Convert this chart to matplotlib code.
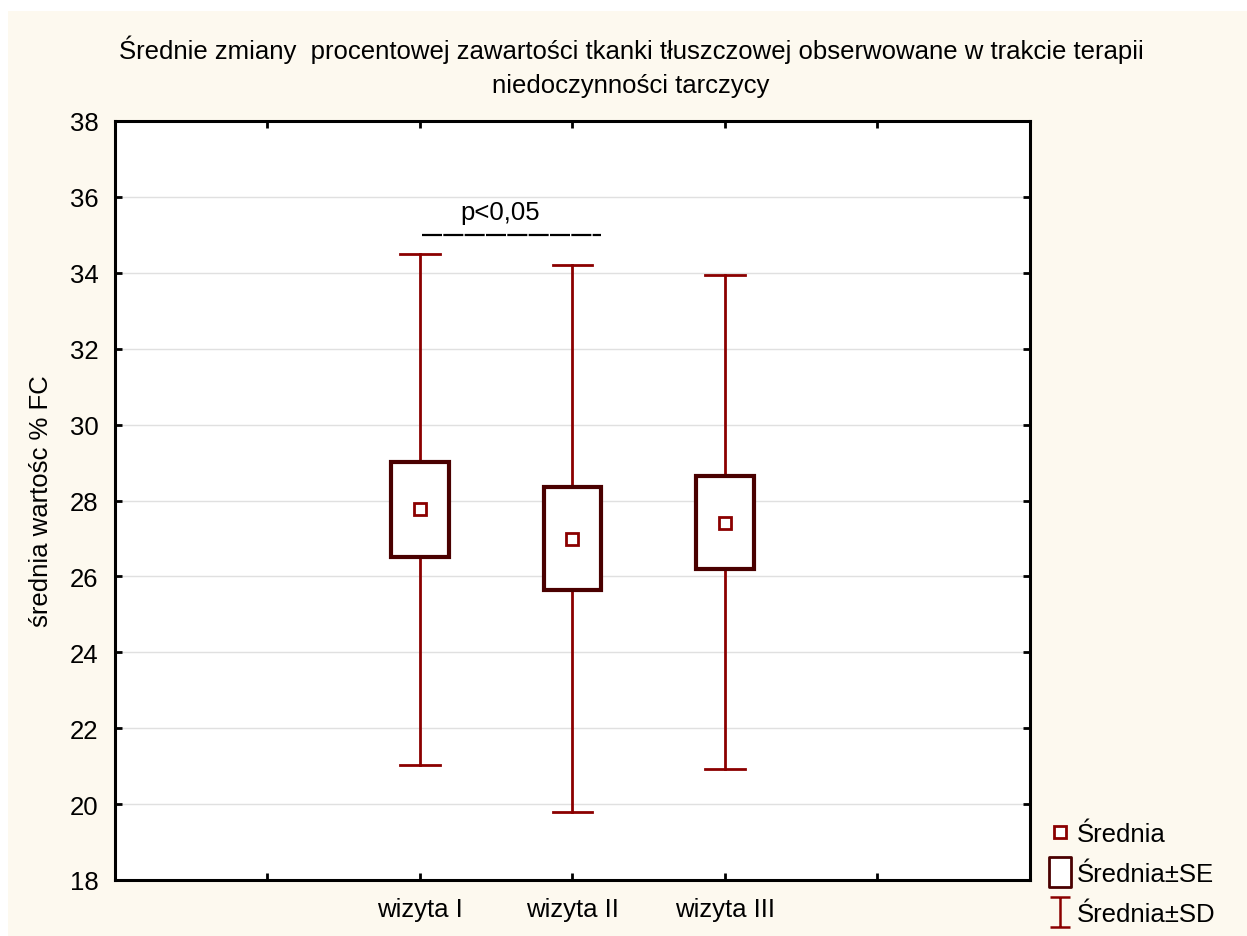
import matplotlib
matplotlib.use('Agg')
import matplotlib.pyplot as plt
from matplotlib.lines import Line2D
from matplotlib.patches import Rectangle
from matplotlib.path import Path

plt.rcParams['font.family'] = ['Liberation Sans', 'DejaVu Sans']

# dane
wizyty = ['wizyta I', 'wizyta II', 'wizyta III']
srednia = [27.78, 26.99, 27.41]
se_dol = [26.51, 25.64, 26.20]
se_gora = [29.01, 28.36, 28.65]
sd_dol = [21.03, 19.79, 20.93]
sd_gora = [34.50, 34.21, 33.94]
pozycje = [2, 3, 4]

box_col = '#4A0000'
sd_col = '#8B0000'
krem = '#FDF9EF'
fs = 18.5

fig = plt.figure(figsize=(12.47, 9.37), dpi=100, facecolor='white')
fig.patches.append(Rectangle((8 / 1247, 0), 1, 1 - 12 / 937, transform=fig.transFigure,
                             facecolor=krem, edgecolor='none', zorder=-10))

ax = fig.add_axes([115 / 1247, 1 - 881 / 937, 915 / 1247, 759 / 937])
ax.set_facecolor('white')

for x, m, sl, sh, dl, dh in zip(pozycje, srednia, se_dol, se_gora, sd_dol, sd_gora):
    # wąsy SD
    ax.plot([x, x], [sh, dh], color=sd_col, lw=2, zorder=3)
    ax.plot([x, x], [dl, sl], color=sd_col, lw=2, zorder=3)
    ax.plot([x - 0.13, x + 0.13], [dh, dh], color=sd_col, lw=2, zorder=3)
    ax.plot([x - 0.13, x + 0.13], [dl, dl], color=sd_col, lw=2, zorder=3)
    # pudełko SE
    ax.add_patch(Rectangle((x - 0.19, sl), 0.38, sh - sl, facecolor='white',
                           edgecolor=box_col, lw=3, zorder=4))
ax.plot(pozycje, srednia, 's', ms=9, mfc='white', mec=sd_col, mew=2, ls='none', zorder=5)

ax.set_xlim(0, 6)
ax.set_ylim(18, 38)
ax.set_yticks(range(18, 39, 2))
ax.set_xticks([1, 2, 3, 4, 5])
ax.set_xticklabels([''] + wizyty + [''])
ax.tick_params(direction='in', length=5, width=2, labelsize=fs, top=True, right=True, pad=12)
ax.grid(axis='y', color='#E0E0E0', lw=1)
ax.set_axisbelow(True)
for s in ax.spines.values():
    s.set_linewidth(2.2)
ax.set_ylabel('średnia wartośc % FC', fontsize=fs, labelpad=12)

# istotność
ax.text(2.525, 35.6, 'p<0,05', fontsize=fs, ha='center', va='center')
ax.plot([2.01, 3.19], [35.0, 35.0], color='black', lw=1.6, ls=(0, (9, 0.6)))

fig.text(0.506, 0.929, 'Średnie zmiany  procentowej zawartości tkanki tłuszczowej obserwowane w trakcie terapii\n'
         'niedoczynności tarczycy', ha='center', va='center', fontsize=fs, linespacing=1.5)

# legenda
ibeam = Path([(-0.7, 1), (0.7, 1), (0, 1), (0, -1), (-0.7, -1), (0.7, -1)],
             [Path.MOVETO, Path.LINETO, Path.MOVETO, Path.LINETO, Path.MOVETO, Path.LINETO])
prost = Path([(-0.75, -1), (0.75, -1), (0.75, 1), (-0.75, 1), (-0.75, -1)],
             [Path.MOVETO, Path.LINETO, Path.LINETO, Path.LINETO, Path.CLOSEPOLY])
uchwyty = [
    Line2D([], [], marker='s', ms=9, mfc='white', mec=sd_col, mew=2, ls='none'),
    Line2D([], [], marker=prost, ms=21, mfc='white', mec=box_col, mew=2, ls='none'),
    Line2D([], [], marker=ibeam, ms=21, mfc='none', mec=sd_col, mew=1.8, ls='none'),
]
fig.legend(uchwyty, ['Średnia', 'Średnia±SE', 'Średnia±SD'], loc='lower left',
           bbox_to_anchor=(1032 / 1247, -0.006), frameon=False, fontsize=fs,
           handlelength=1.0, handletextpad=0.15, labelspacing=0.62, borderaxespad=0.2)

fig.savefig('out.png', dpi=100, facecolor=fig.get_facecolor())
